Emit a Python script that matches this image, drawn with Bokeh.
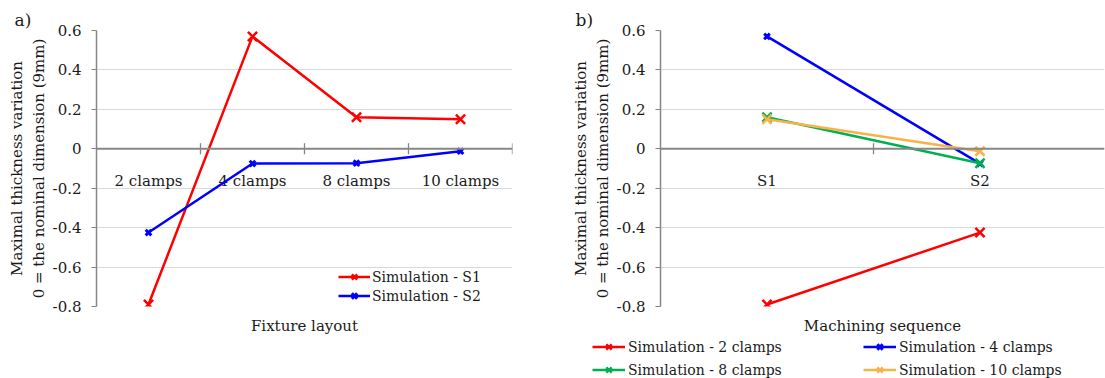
import numpy as np
from bokeh.plotting import figure
from bokeh.layouts import row, column
from bokeh.models import (Range1d, FixedTicker, CustomJSTickFormatter, Span,
                          Legend, LegendItem)
from bokeh.core.properties import value
from bokeh.embed import file_html
from bokeh.resources import INLINE

# ---------------- data ----------------
layouts = ["2 clamps", "4 clamps", "8 clamps", "10 clamps"]
sequences = ["S1", "S2"]
sim_s1 = [-0.79, 0.57, 0.16, 0.15]
sim_s2 = [-0.425, -0.075, -0.073, -0.012]
y_ticks = [-0.8, -0.6, -0.4, -0.2, 0, 0.2, 0.4, 0.6]

series_a_names = ["Simulation - S1", "Simulation - S2"]
series_b_names = ["Simulation - 2 clamps", "Simulation - 4 clamps",
                  "Simulation - 8 clamps", "Simulation - 10 clamps"]

# ---------------- styles ----------------
FONT = "DejaVu Serif"
AXIS_GRAY = "#868686"
GRID_GRAY = "#D9D9D9"
TXT = "#1a1a1a"
RED, BLUE, GREEN, ORANGE = "#FF0000", "#0000FF", "#00B050", "#F9B24A"
YLABEL = "Maximal thickness variation\n0 = the nominal dimension (9mm)"

FRAME_H = 276
CAT_W = 213


def base_fig(letter, letter_offset, cats, xlabel, frame_w, border_left, border_right,
             x_end, n_bounds):
    p = figure(frame_width=frame_w, frame_height=FRAME_H,
               min_border_left=border_left, min_border_right=border_right,
               min_border_top=30, min_border_bottom=30,
               x_range=Range1d(-0.5, x_end), y_range=Range1d(-0.8, 0.6),
               output_backend="svg", toolbar_location=None)
    p.outline_line_color = None
    p.background_fill_color = "white"
    p.border_fill_color = "white"
    p.xgrid.grid_line_color = None
    p.ygrid.ticker = FixedTicker(ticks=y_ticks)
    p.ygrid.grid_line_color = GRID_GRAY
    p.ygrid.grid_line_width = 1.2

    p.title.text = letter
    p.title.align = "left"
    p.title.offset = letter_offset
    p.title.standoff = 1
    p.title.text_font = FONT
    p.title.text_font_size = "17px"
    p.title.text_font_style = "normal"
    p.title.text_color = TXT

    ya = p.yaxis[0]
    ya.ticker = FixedTicker(ticks=y_ticks)
    ya.formatter = CustomJSTickFormatter(
        code="const v = Math.round(tick*10)/10; return v === 0 ? '0' : v.toFixed(1);")
    ya.axis_line_color = AXIS_GRAY
    ya.axis_line_width = 1.5
    ya.major_tick_line_color = AXIS_GRAY
    ya.major_tick_line_width = 1.2
    ya.major_tick_out = 5
    ya.major_tick_in = 0
    ya.minor_tick_line_color = None
    ya.major_label_text_font = FONT
    ya.major_label_text_font_size = "15px"
    ya.major_label_text_color = TXT
    ya.major_label_standoff = 10
    ya.axis_label = YLABEL
    ya.axis_label_text_font = FONT
    ya.axis_label_text_font_size = "15px"
    ya.axis_label_text_font_style = "normal"
    ya.axis_label_text_color = TXT
    ya.axis_label_standoff = 2

    xa = p.xaxis[0]
    xa.ticker = FixedTicker(ticks=[])
    xa.axis_line_color = None
    xa.major_tick_line_color = None
    xa.minor_tick_line_color = None
    xa.axis_label = xlabel
    xa.axis_label_text_font = FONT
    xa.axis_label_text_font_size = "15px"
    xa.axis_label_text_font_style = "normal"
    xa.axis_label_text_color = TXT
    xa.axis_label_standoff = 10

    # zero axis line (Excel style, crossing at 0)
    p.add_layout(Span(location=0, dimension="width", line_color=AXIS_GRAY, line_width=2))
    xs = np.arange(len(cats))
    bounds = [i + 0.5 for i in range(n_bounds)]
    p.scatter(x=bounds, y=[0] * len(bounds), marker="dash", size=11, angle=np.pi / 2,
              line_color=AXIS_GRAY, line_width=1.3)
    # category labels below the zero line
    p.text(x=xs, y=[0] * len(cats), text=cats, x_offset=0, y_offset=32,
           text_align="center", text_baseline="middle",
           text_font=value(FONT), text_font_size="15px", text_color=TXT)
    return p


def add_series(p, xs, ys, color, size, lw_marker):
    l = p.line(xs, ys, line_color=color, line_width=2.5)
    s = p.scatter(xs, ys, marker="x", size=size, line_color=color, line_width=lw_marker)
    return [l, s]


# ---------------- chart a ----------------
pa = base_fig("a)", -82, layouts, "Fixture layout", 416, 96, 41, 3.5, len(layouts))
xa_pos = np.arange(len(layouts))
ra1 = add_series(pa, xa_pos, sim_s1, RED, 13, 2.5)
ra2 = add_series(pa, xa_pos, sim_s2, BLUE, 8, 3)
leg_a = Legend(items=[LegendItem(label=series_a_names[0], renderers=ra1),
                      LegendItem(label=series_a_names[1], renderers=ra2)],
               location=(242, 1), orientation="vertical",
               glyph_width=32, glyph_height=19, spacing=0, padding=0, margin=0,
               label_standoff=2, label_text_font=FONT, label_text_font_size="14px",
               label_text_color=TXT, background_fill_alpha=0, border_line_color=None)
pa.add_layout(leg_a, "center")

# ---------------- chart b ----------------
pb = base_fig("b)", -85, sequences, "Machining sequence", 444, 107, 1,
              -0.5 + 444 / CAT_W, len(sequences) - 1)
xb_pos = np.arange(len(sequences))
colors_b = [RED, BLUE, GREEN, ORANGE]
sizes_b = [13, 8, 13, 13]
lws_b = [2.5, 3, 2.5, 2.5]
for i in range(len(layouts)):
    add_series(pb, xb_pos, [sim_s1[i], sim_s2[i]], colors_b[i], sizes_b[i], lws_b[i])

# legend strip for chart b: a full-width figure under both charts whose ranges
# keep the (same) series out of view, so only its legend shows
pl = figure(width=1105, height=42, min_border=0, x_range=Range1d(10, 11),
            y_range=Range1d(10, 11), x_axis_location=None, y_axis_location=None,
            output_backend="svg", toolbar_location=None)
pl.outline_line_color = None
pl.grid.grid_line_color = None
legend_renderers = []
for i in range(len(layouts)):
    legend_renderers.append(
        add_series(pl, xb_pos, [sim_s1[i], sim_s2[i]], colors_b[i], sizes_b[i], lws_b[i]))
# row-major order (2, 4 / 8, 10) filled column by column
order = [0, 2, 1, 3]
items_b = [LegendItem(label=series_b_names[k], renderers=legend_renderers[k]) for k in order]
leg_b = Legend(items=items_b, location=(592, 0), ncols=2,
               glyph_width=33, glyph_height=19, spacing=4, padding=0, margin=0,
               label_standoff=3, label_width=231, label_text_font=FONT,
               label_text_font_size="14px", label_text_color=TXT,
               background_fill_alpha=0, border_line_color=None)
pl.add_layout(leg_b, "center")

layout = column(row(pa, pb, spacing=0), pl, spacing=0)
open("out.html", "w").write(file_html(layout, INLINE))
